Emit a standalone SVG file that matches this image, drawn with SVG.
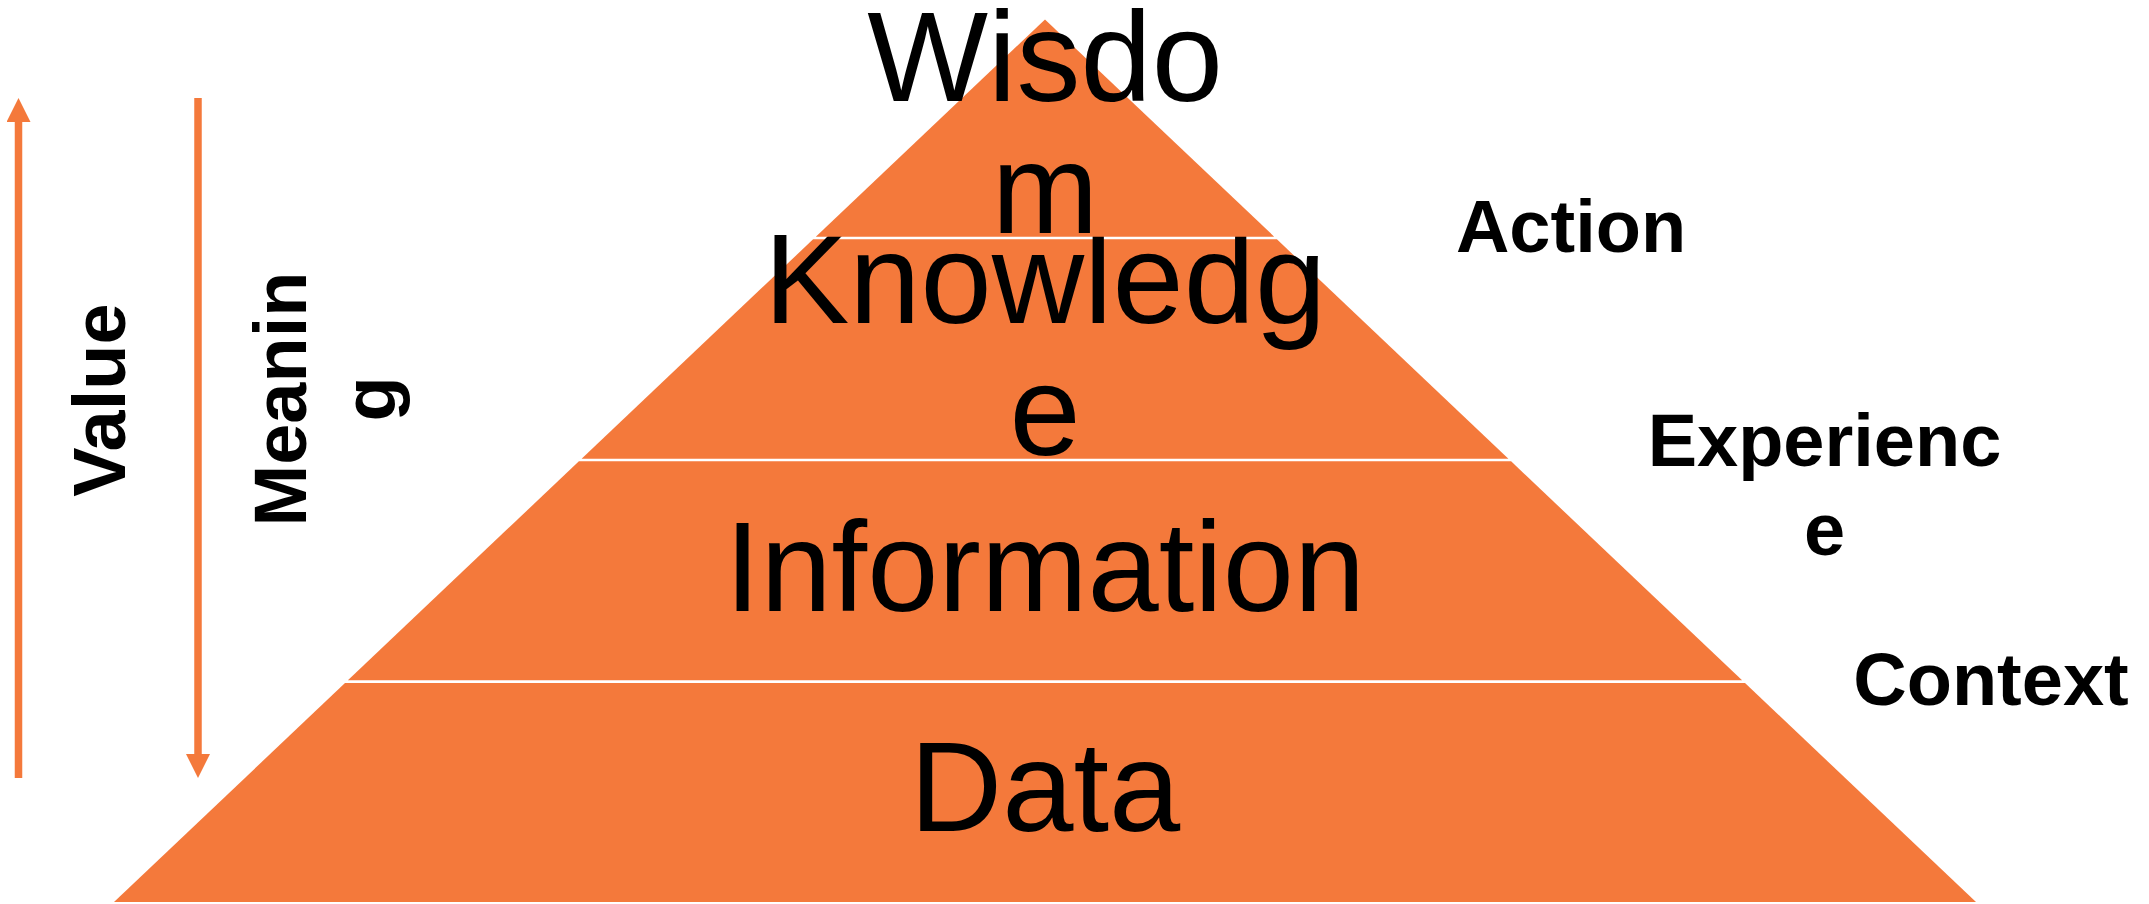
<svg xmlns="http://www.w3.org/2000/svg" width="2149" height="904" viewBox="0 0 2149 904">
<style>
.layer{fill:#F4793B;stroke:none}
.big{font-family:"Liberation Sans",Arial,sans-serif;font-size:128px;fill:#000;text-anchor:middle}
.lbl{font-family:"Liberation Sans",Arial,sans-serif;font-size:74px;font-weight:bold;fill:#000;text-anchor:middle}
.arrow{stroke:#F4793B;stroke-width:7.5;fill:none}
</style>
<defs>
<marker id="head" viewBox="0 0 24 24" markerWidth="24" markerHeight="24" refX="0" refY="12" orient="auto" markerUnits="userSpaceOnUse">
<path d="M0,0 L24,12 L0,24 Z" fill="#F4793B"/>
</marker>
</defs>
<rect width="2149" height="904" fill="#fff"/>
<g id="connectors">
<line class="arrow" x1="18.5" y1="778" x2="18.5" y2="122" marker-end="url(#head)"/>
<line class="arrow" x1="198" y1="98" x2="198" y2="754" marker-end="url(#head)"/>
</g>
<g id="data">
<polygon class="layer" points="345,683 1745,683 1976,902 114,902"/>
<text class="big" x="1045" y="831">Data</text>
</g>
<g id="information">
<polygon class="layer" points="578.9,461.3 1511.1,461.3 1742.1,680.3 347.9,680.3"/>
<text class="big" x="1045" y="611">Information</text>
</g>
<g id="knowledge">
<polygon class="layer" points="813.1,239.3 1276.9,239.3 1508.4,458.7 581.6,458.7"/>
<text class="big" x="1045" y="322.7">Knowledg<tspan x="1045" y="455">e</tspan></text>
</g>
<g id="wisdom">
<polygon class="layer" points="1045,19.5 1274.2,236.7 815.8,236.7"/>
<text class="big" x="1045" y="100.7">Wisdo<tspan x="1045" y="233.3">m</tspan></text>
</g>
<g id="action">
<text class="lbl" x="1571" y="252">Action</text>
</g>
<g id="experience">
<text class="lbl" x="1824.5" y="466">Experienc<tspan x="1824.5" y="554.5">e</tspan></text>
</g>
<g id="context">
<text class="lbl" x="1991" y="705">Context</text>
</g>
<g id="value">
<text class="lbl" transform="translate(125,400) rotate(-90)">Value</text>
</g>
<g id="meaning">
<text class="lbl" transform="translate(306,399) rotate(-90)"><tspan x="0" y="0">Meanin</tspan><tspan x="0" y="88.5">g</tspan></text>
</g>
</svg>
